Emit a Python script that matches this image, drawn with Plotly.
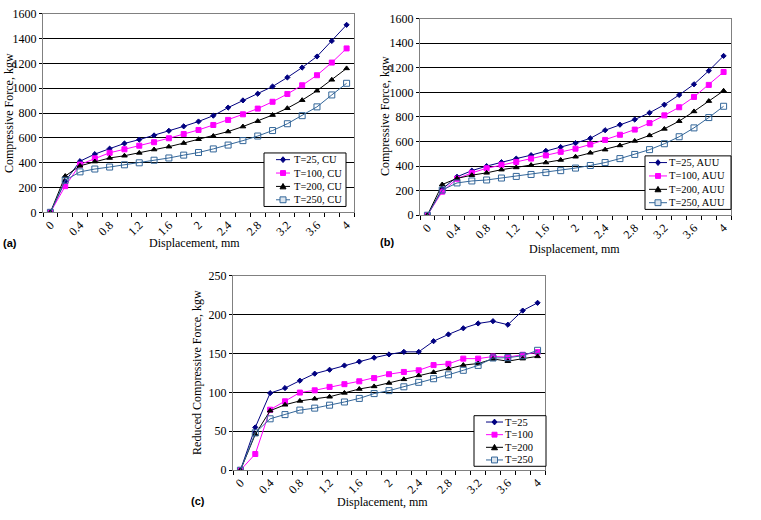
import plotly.graph_objects as go

W, H = 761, 520

disp = [round(0.2 * i, 1) for i in range(21)]
tick_vals = [0, 0.4, 0.8, 1.2, 1.6, 2, 2.4, 2.8, 3.2, 3.6, 4]
tick_text = ["0", "0.4", "0.8", "1.2", "1.6", "2", "2.4", "2.8", "3.2", "3.6", "4"]

# (a) CU
cu_25 = [0, 250, 412, 469, 513, 555, 586, 620, 657, 693, 732, 779, 844, 902, 956, 1014, 1087, 1167, 1256, 1381, 1511]
cu_100 = [0, 211, 385, 435, 480, 508, 537, 565, 597, 631, 664, 704, 745, 790, 836, 891, 954, 1024, 1105, 1207, 1321]
cu_200 = [0, 292, 375, 409, 438, 456, 479, 506, 529, 558, 589, 615, 651, 691, 735, 784, 839, 904, 980, 1068, 1160]
cu_250 = [0, 258, 326, 349, 365, 383, 399, 420, 438, 461, 482, 511, 542, 578, 615, 659, 714, 779, 850, 946, 1040]

# (b) AUU
auu_25 = [0, 213, 313, 363, 400, 432, 461, 489, 524, 555, 587, 626, 692, 737, 779, 834, 900, 979, 1066, 1176, 1297]
auu_100 = [0, 192, 297, 345, 382, 411, 434, 461, 487, 516, 542, 576, 613, 655, 697, 750, 813, 879, 963, 1061, 1166]
auu_200 = [0, 250, 300, 326, 345, 371, 389, 408, 429, 450, 476, 508, 534, 568, 605, 650, 703, 766, 845, 929, 1013]
auu_250 = [0, 205, 263, 279, 287, 303, 316, 332, 347, 363, 384, 405, 429, 461, 495, 534, 582, 639, 711, 795, 887]

# (c) reduced
red_25 = [0, 55, 99, 105.5, 115, 124, 129, 134.5, 139.5, 144.5, 148.7, 152, 152, 165.7, 174.4, 182.3, 188.5, 191.4, 186.9, 205, 215]
red_100 = [0, 20.8, 77.7, 88.5, 99.7, 102.6, 107, 110.5, 114.2, 118.3, 123.3, 126.2, 128.3, 135, 136.6, 143.3, 143.3, 146, 145.3, 148.3, 151.6]
red_200 = [0, 46, 76.4, 84, 89, 91.8, 94.3, 99.3, 104.3, 107.6, 112, 116.7, 121.7, 125.8, 130.4, 135, 137, 142.9, 140, 143.3, 146.2]
red_250 = [0, 48, 66, 71.4, 77.2, 79.7, 83.5, 87.6, 92.2, 98.4, 102.2, 107.1, 112.9, 117.5, 122.5, 128.3, 134.6, 144.1, 144.5, 147, 154]

names_a = ["T=25, CU", "T=100, CU", "T=200, CU", "T=250, CU"]
names_b = ["T=25, AUU", "T=100, AUU", "T=200, AUU", "T=250, AUU"]
names_c = ["T=25", "T=100", "T=200", "T=250"]

styles = [
    dict(color="#000080", symbol="diamond", size=4),
    dict(color="#FF00FF", symbol="square", size=5),
    dict(color="#000000", symbol="triangle-up", size=5),
    dict(color="#336699", symbol="square-open", size=6),
]

FONT = "Liberation Serif"

fig = go.Figure()

panels = [
    ("x", "y", [cu_25, cu_100, cu_200, cu_250], names_a),
    ("x2", "y2", [auu_25, auu_100, auu_200, auu_250], names_b),
    ("x3", "y3", [red_25, red_100, red_200, red_250], names_c),
]

for xa, ya, series, names in panels:
    for vals, name, st in zip(series, names, styles):
        fig.add_trace(go.Scatter(
            x=disp, y=vals, name=name, mode="lines+markers",
            xaxis=xa, yaxis=ya, showlegend=False,
            line=dict(color=st["color"], width=1),
            marker=dict(color=st["color"], symbol=st["symbol"], size=st["size"],
                        line=dict(color=st["color"], width=1)),
        ))

def px_x(a, b):
    return [a / W, b / W]

def px_y(top, bottom):
    return [1 - bottom / H, 1 - top / H]

xcommon = dict(
    range=[-0.1, 4.1], tickmode="array", tickvals=tick_vals, ticktext=tick_text,
    tickangle=-45, ticks="", showgrid=False, zeroline=False,
    showline=True, linecolor="#808080", linewidth=1, mirror=True,
    tickfont=dict(family=FONT, size=12, color="#000"),
    minor=dict(tickmode="linear", tick0=-0.1, dtick=0.2, ticks="outside",
               ticklen=4, tickcolor="#000", showgrid=False),
)
ycommon = dict(
    showgrid=True, gridcolor="#000", gridwidth=1, zeroline=False,
    showline=True, linecolor="#808080", linewidth=1, mirror=True,
    ticks="outside", ticklen=3, tickcolor="#000",
    tickfont=dict(family=FONT, size=12, color="#000"),
)

fig.update_layout(
    width=W, height=H, margin=dict(l=0, r=0, t=0, b=0),
    paper_bgcolor="white", plot_bgcolor="white", showlegend=False,
    xaxis=dict(domain=px_x(43, 354), anchor="y", **xcommon),
    yaxis=dict(domain=px_y(7, 211), anchor="x", range=[0, 1600], dtick=200, **ycommon),
    xaxis2=dict(domain=px_x(420, 731), anchor="y2", **xcommon),
    yaxis2=dict(domain=px_y(12, 214), anchor="x2", range=[0, 1600], dtick=200, **ycommon),
    xaxis3=dict(domain=px_x(233, 545), anchor="y3", **xcommon),
    yaxis3=dict(domain=px_y(276, 476), anchor="x3", range=[0, 250], dtick=50, **ycommon),
)

# ---- legend boxes (layout decorations placed in pixel space) ----
def PX(x):
    return x / W

def PY(y):
    return 1 - y / H

shapes = []
annots = []

def key_shape(kind, cx, cy, color):
    r = 2.5
    if kind == "diamond":
        path = (f"M {PX(cx)} {PY(cy - r - 0.5)} L {PX(cx + r)} {PY(cy)} "
                f"L {PX(cx)} {PY(cy + r + 0.5)} L {PX(cx - r)} {PY(cy)} Z")
        return dict(type="path", path=path, xref="paper", yref="paper",
                    fillcolor=color, line=dict(color=color, width=1), layer="above")
    if kind == "triangle-up":
        path = (f"M {PX(cx)} {PY(cy - r - 0.5)} L {PX(cx + r + 0.5)} {PY(cy + r)} "
                f"L {PX(cx - r - 0.5)} {PY(cy + r)} Z")
        return dict(type="path", path=path, xref="paper", yref="paper",
                    fillcolor=color, line=dict(color=color, width=1), layer="above")
    if kind == "square":
        return dict(type="rect", x0=PX(cx - r), x1=PX(cx + r), y0=PY(cy - r), y1=PY(cy + r),
                    xref="paper", yref="paper", fillcolor=color,
                    line=dict(color=color, width=1), layer="above")
    rr = 3
    return dict(type="rect", x0=PX(cx - rr), x1=PX(cx + rr), y0=PY(cy - rr), y1=PY(cy + rr),
                xref="paper", yref="paper", fillcolor="#dde6ef",
                line=dict(color=color, width=1), layer="above")

def legend_box(left, top, right, bottom, names, lx0, lx1, tx):
    shapes.append(dict(type="rect", xref="paper", yref="paper",
                       x0=PX(left), x1=PX(right), y0=PY(bottom), y1=PY(top),
                       fillcolor="white", line=dict(color="#000", width=1), layer="above"))
    n = len(names)
    step = (bottom - top) / n
    for i, (name, st) in enumerate(zip(names, styles)):
        cy = top + step * (i + 0.5)
        shapes.append(dict(type="line", xref="paper", yref="paper",
                           x0=PX(left + lx0), x1=PX(left + lx1), y0=PY(cy), y1=PY(cy),
                           line=dict(color=st["color"], width=1), layer="above"))
        shapes.append(key_shape(st["symbol"], left + (lx0 + lx1) / 2, cy, st["color"]))
        annots.append(dict(text=name, x=PX(left + tx), y=PY(cy), xref="paper", yref="paper",
                           xanchor="left", yanchor="middle", showarrow=False, borderpad=0,
                           font=dict(family=FONT, size=10.5, color="#000")))

legend_box(264, 150, 346, 205, names_a, 12, 26, 29)
legend_box(645, 153, 731, 208, names_b, 4, 22, 23)
legend_box(474, 420, 546, 472, names_c, 12, 29, 30)

titles = [
    ("Compressive Force, kgw", 9, 109, -90, FONT, 12, False),
    ("Displacement, mm", 194, 243, 0, FONT, 12, False),
    ("Compressive Force, kgw", 385, 112, -90, FONT, 12, False),
    ("Displacement, mm", 574, 249, 0, FONT, 12, False),
    ("Reduced Compressive Force, kgw", 197, 375, -90, FONT, 12, False),
    ("Displacement, mm", 382, 509, 0, FONT, 12, False),
    ("(a)", 10, 243, 0, "Liberation Sans", 11, True),
    ("(b)", 387, 241, 0, "Liberation Sans", 11, True),
    ("(c)", 198, 508, 0, "Liberation Sans", 11, True),
]
for text, x, y, ang, fam, sz, bold in titles:
    annots.append(dict(
        text=f"<b>{text}</b>" if bold else text,
        x=PX(x), y=PY(y), xref="paper", yref="paper",
        xanchor="center", yanchor="middle", showarrow=False, textangle=ang,
        font=dict(family=fam, size=sz, color="#000"),
    ))

fig.update_layout(shapes=shapes, annotations=annots)

fig.write_html("out.html")
